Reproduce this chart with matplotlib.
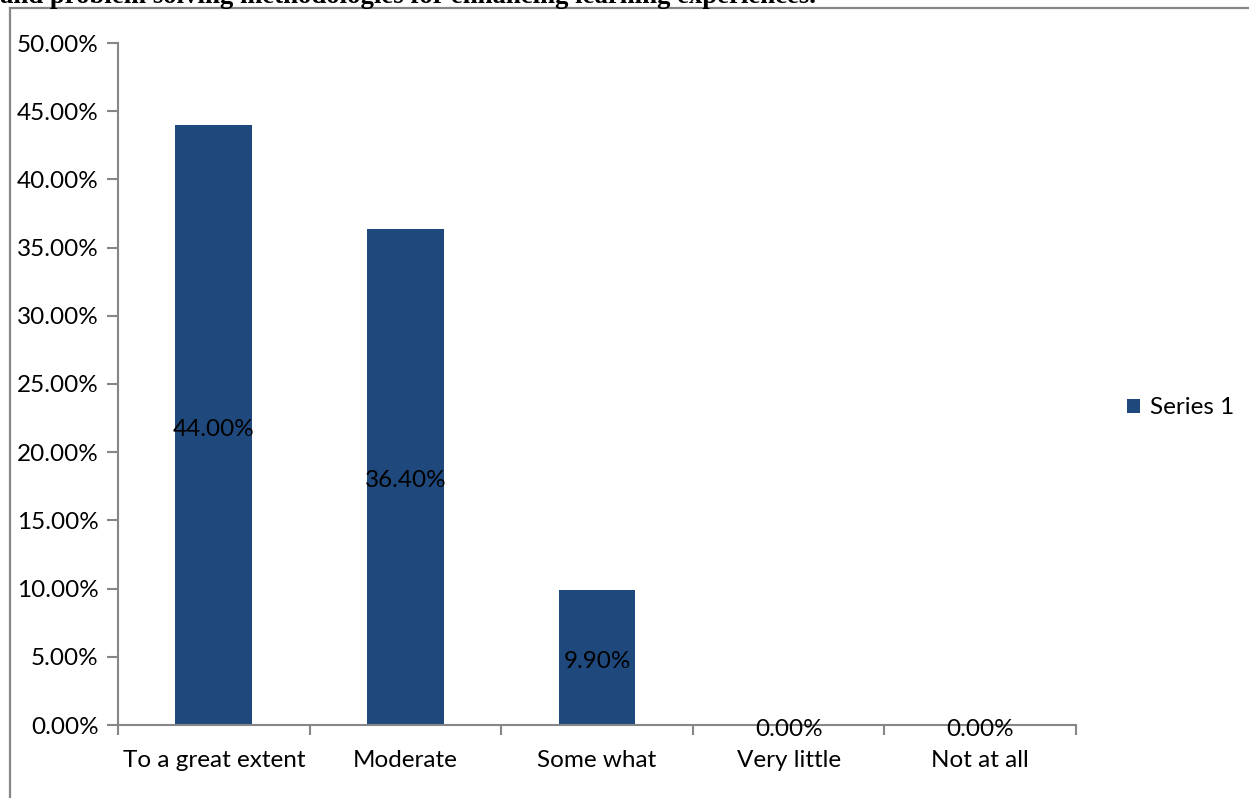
import numpy as np
import matplotlib.pyplot as plt
from matplotlib.ticker import FuncFormatter, FixedLocator
from matplotlib.lines import Line2D

categories = ['To a great extent', 'Moderate', 'Some what', 'Very little', 'Not at all']
values = [0.44, 0.364, 0.099, 0.0, 0.0]
series_name = 'Series 1'
title_text = 'and problem solving methodologies for enhancing learning experiences.'

plt.rcParams['font.family'] = ['Lato', 'DejaVu Sans']
bar_color = '#1f497d'
axis_color = '#868686'
fs = 17.5

W, H = 1249, 798
fig = plt.figure(figsize=(W / 100, H / 100), dpi=100)

# outer chart frame (left and top edge visible only)
fig.add_artist(Line2D([10 / W, 10 / W], [0, 1 - 8 / H], color=axis_color, lw=1.6))
fig.add_artist(Line2D([10 / W, 1], [1 - 8 / H, 1 - 8 / H], color=axis_color, lw=1.6))

# cut-off heading above the chart
fig.text(0, 1 - 3 / H, title_text, family='Liberation Serif', weight='bold',
         fontsize=19.3, va='baseline', ha='left')

ax = fig.add_axes([118 / W, 73 / H, (1076 - 118) / W, (725 - 43) / H])
x = np.arange(len(categories))
bars = ax.bar(x, values, width=0.4, color=bar_color, label=series_name)

# data labels centred in the bars
for xi, v in zip(x, values):
    ax.annotate(f'{v * 100:.2f}%', (xi, v / 2), xytext=(0, -3), textcoords='offset points',
                ha='center', va='center', fontsize=fs, color='black')

ax.set_xlim(-0.5, len(categories) - 0.5)
ax.set_ylim(0, 0.5)
ax.set_yticks(np.arange(0, 0.501, 0.05))
ax.yaxis.set_major_formatter(FuncFormatter(lambda v, p: f'{v * 100:.2f}%'))
ax.set_xticks(x)
ax.set_xticklabels(categories)
ax.xaxis.set_minor_locator(FixedLocator(np.arange(-0.5, len(categories), 1.0)))
ax.tick_params(axis='x', which='major', length=0, pad=18, labelsize=fs)
ax.tick_params(axis='x', which='minor', length=7, width=1.5, color=axis_color, direction='out')
ax.tick_params(axis='y', length=8, width=1.5, color=axis_color, labelsize=fs, pad=6)

for s in ['top', 'right']:
    ax.spines[s].set_visible(False)
for s in ['left', 'bottom']:
    ax.spines[s].set_color(axis_color)
    ax.spines[s].set_linewidth(1.5)

fig.legend(handles=[bars], labels=[series_name], loc='center left',
           bbox_to_anchor=(1105 / W, 1 - 408 / H), frameon=False, fontsize=fs,
           handlelength=0.55, handleheight=0.55, handletextpad=0.4)

fig.savefig('out.png', dpi=100)
